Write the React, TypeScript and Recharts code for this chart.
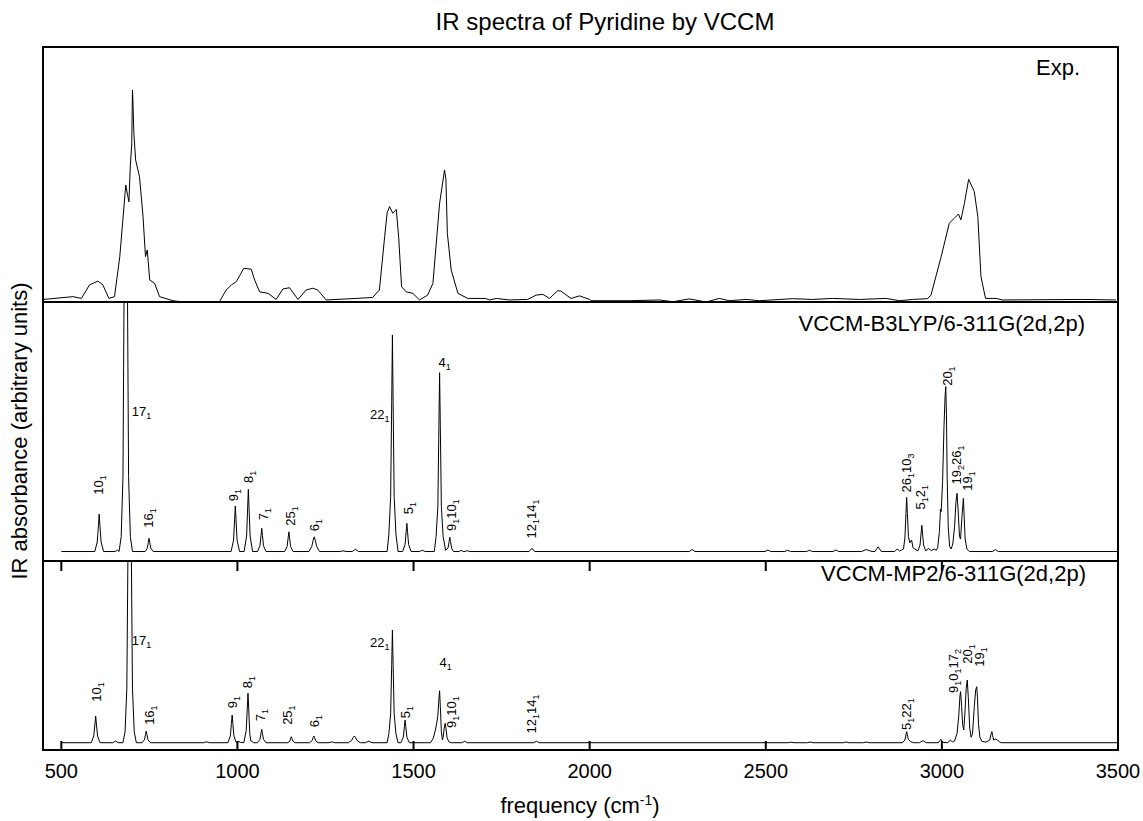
import React from 'react'
import { LineChart, Line, XAxis, YAxis, ReferenceDot } from 'recharts'

const FONT = '"Liberation Sans", Arial, Helvetica, sans-serif'

const FREQ_DOMAIN = [448, 3500]
const FREQ_TICKS = [500, 1000, 1500, 2000, 2500, 3000, 3500]

// [frequency (cm-1), absorbance (% of panel)]
const expSpectrum = [
  [450, 1.0], [533, 2.1], [557, 1.4], [580, 6.7], [604, 8.2], [618, 6.7], [635, 1.4], [651, 2.1],
  [666, 17.8], [683, 45.9], [688, 42.0], [692, 39.3], [696, 53.7], [700, 62], [702, 83.1], [703, 80],
  [706, 66.1], [711, 55.7], [722, 49.1], [732, 33.5], [739, 17.8], [744, 20.4], [751, 8.6], [765, 7.3],
  [779, 2.1], [817, 0.5], [835, 0.2], [949, 0.1], [968, 4.7], [983, 6.7], [997, 8.0], [1018, 13.2],
  [1039, 12.9], [1049, 8.6], [1063, 4.0], [1087, 3.4], [1110, 1.0], [1129, 5.1], [1148, 5.6], [1172, 1.0],
  [1195, 4.7], [1214, 5.4], [1228, 4.7], [1252, 0.8], [1337, 1.4], [1384, 1.8], [1403, 4.7], [1418, 25.6],
  [1425, 35.0], [1432, 37.4], [1441, 34.8], [1451, 36.3], [1458, 25.0], [1466, 6.0], [1479, 4.0], [1498, 3.4],
  [1517, 0.8], [1540, 2.7], [1555, 7.3], [1574, 38.7], [1588, 51.8], [1592, 48.0], [1596, 26.9], [1607, 12.5],
  [1626, 3.4], [1654, 1.4], [1704, 1.4], [1716, 0.8], [1735, 1.4], [1772, 0.8], [1824, 1.0], [1848, 2.7],
  [1867, 3.0], [1886, 1.4], [1909, 4.4], [1918, 4.3], [1947, 1.4], [1971, 2.4], [2000, 1.0], [2004, 0.5],
  [2113, 0.5], [2198, 0.8], [2236, 0.1], [2283, 1.2], [2331, 0.0], [2368, 1.4], [2396, 0.5], [2444, 1.0],
  [2482, 0.5], [2576, 1.3], [2633, 1.0], [2690, 1.4], [2766, 1.0], [2842, 1.4], [2879, 0.5], [2917, 1.0],
  [2959, 1.3], [2969, 2.7], [2998, 17.8], [3021, 30.9], [3035, 32.8], [3047, 34.5], [3054, 32.2], [3064, 38.7],
  [3076, 48.1], [3092, 43.3], [3102, 33.5], [3111, 9.9], [3124, 1.4], [3154, 1.4], [3172, 0.8], [3400, 1.0],
  [3494, 0.8],
]

const b3lypSpectrum = [
  [500, 0],
  [595, 0], [602, 3.8], [605.5, 10.5], [607.5, 15], [609.5, 10.5], [613, 3.8], [620, 0],
  [653, 0], [659, 0.6], [664, 0],
  [670, 6], [675, 30], [678, 100], [680, 200], [683, 400], [686, 200], [688, 100], [691, 30], [696, 6], [702, 0],
  [738, 0], [744, 1.3], [747, 3.7], [749, 5.3], [751, 3.7], [754, 1.3], [761, 0],
  [982, 0], [989, 4.6], [992, 12.7], [994, 18.2], [996, 12.7], [999, 4.6], [1006, 0],
  [1019, 0], [1026, 6.2], [1029, 17.4], [1031, 24.9], [1033, 17.4], [1036, 6.2], [1043, 0],
  [1057, 0], [1064, 2.3], [1067, 6.5], [1069, 9.3], [1071, 6.5], [1074, 2.3], [1081, 0],
  [1134, 0], [1141, 2.0], [1144, 5.5], [1146, 7.9], [1148, 5.5], [1151, 2.0], [1158, 0],
  [1203, 0], [1211, 2.0], [1215, 4.5], [1218, 5.9], [1221, 4.5], [1225, 2.0], [1233, 0],
  [1292, 0], [1300, 0.3], [1308, 0],
  [1326, 0], [1335, 0.9], [1344, 0],
  [1425, 0], [1430, 7], [1435, 22], [1438, 60], [1440, 86.8], [1442, 60], [1445, 22], [1450, 7], [1456, 0],
  [1469, 0], [1476, 2.8], [1479, 7.9], [1481, 11.3], [1483, 7.9], [1486, 2.8], [1493, 0],
  [1517, 0], [1525, 0.5], [1533, 0],
  [1559, 0], [1564, 6], [1569, 18], [1572, 50], [1574, 71.7], [1576, 50], [1579, 18], [1584, 6], [1591, 0.5],
  [1598, 1.4], [1601, 4.0], [1603, 5.7], [1605, 4.0], [1608, 1.4], [1613, 0],
  [1630, 0], [1635, 0.5], [1641, 0], [1647, 0], [1652, 0.4], [1658, 0],
  [1828, 0], [1836, 1.3], [1844, 0],
  [2283, 0], [2291, 0.8], [2299, 0],
  [2498, 0], [2506, 0.6], [2514, 0],
  [2554, 0], [2562, 0.5], [2570, 0],
  [2616, 0], [2624, 0.5], [2632, 0],
  [2691, 0], [2699, 0.6], [2707, 0],
  [2772, 0], [2785, 0.8], [2795, 0.3], [2802, 0],
  [2810, 0], [2819, 1.9], [2828, 0],
  [2866, 0], [2873, 1.0], [2880, 0.2], [2886, 0.6],
  [2891, 1.0], [2895, 5.4], [2898, 15.2], [2900, 21.7], [2902, 15.2], [2905, 6.0], [2909, 3.5], [2914, 4.6], [2918, 1.5], [2923, 1.0],
  [2932, 0.3], [2938, 2.6], [2941, 7.4], [2943, 10.5], [2945, 7.4], [2948, 2.6], [2954, 0.3], [2962, 1.2], [2970, 0.4], [2978, 1.0], [2984, 0.5],
  [2988, 1.5], [2993, 8], [2996, 16.9], [2998, 16], [3002, 28], [3006, 50], [3009, 62], [3011, 66.1], [3013, 55], [3015, 30], [3018, 10], [3022, 2], [3026, 1],
  [3031, 3], [3036, 10], [3040, 20], [3043, 23.3], [3046, 17], [3050, 6], [3053, 5], [3057, 14], [3061, 21.3], [3063, 15], [3066, 5], [3071, 1], [3078, 0],
  [3144, 0], [3152, 0.8], [3160, 0],
  [3500, 0],
]

const mp2Spectrum = [
  [500, 0],
  [585, 0], [592, 3.7], [595.5, 10.3], [597.5, 14.7], [599.5, 10.3], [603, 3.7], [610, 0],
  [646, 0], [654, 0.9], [662, 0],
  [675, 0], [681, 6], [686, 30], [689, 100], [691, 200], [694, 400], [697, 200], [699, 100], [702, 30], [707, 6], [713, 0],
  [729, 0], [736, 1.6], [739, 4.5], [741, 6.4], [743, 4.5], [746, 1.6], [753, 0],
  [904, 0], [912, 0.5], [920, 0],
  [973, 0], [980, 3.8], [983, 10.6], [985, 15.2], [987, 10.6], [990, 3.8], [996, 0.3], [1002, 0.8], [1008, 0.2],
  [1018, 0], [1025, 6.8], [1028, 19], [1030, 27.2], [1032, 19], [1035, 5], [1038, 1], [1041, 0.8], [1046, 0],
  [1057, 0], [1064, 1.9], [1067, 5.2], [1069, 7.4], [1071, 5.2], [1074, 1.9], [1081, 0],
  [1143, 0], [1149, 1.0], [1151, 2.3], [1153, 3.3], [1155, 2.3], [1157, 1.0], [1163, 0],
  [1205, 0], [1212, 1.2], [1215, 2.8], [1217, 3.7], [1219, 2.8], [1222, 1.2], [1229, 0],
  [1260, 0], [1268, 0.5], [1276, 0],
  [1315, 0], [1324, 1.2], [1329, 3.0], [1332, 3.7], [1335, 3.0], [1340, 1.2], [1349, 0],
  [1364, 0], [1373, 0.9], [1382, 0],
  [1425, 0], [1430, 5], [1435, 16], [1438, 43], [1440, 62], [1442, 43], [1445, 16], [1450, 5], [1456, 0],
  [1464, 0], [1471, 3.1], [1474, 8.8], [1476, 12.5], [1478, 8.8], [1481, 3.1], [1488, 0],
  [1548, 0], [1556, 2.5], [1562, 7], [1566, 11], [1569, 15], [1572, 24], [1574, 28.6], [1576, 20], [1579, 6], [1582, 1.5],
  [1584, 3], [1587, 8], [1590, 10.7], [1592, 8], [1595, 3], [1600, 0.5], [1606, 0],
  [1637, 0], [1645, 0.8], [1653, 0],
  [1841, 0], [1849, 0.8], [1857, 0],
  [2564, 0], [2572, 0.3], [2580, 0],
  [2618, 0], [2626, 0.4], [2634, 0],
  [2720, 0], [2728, 0.4], [2736, 0],
  [2777, 0], [2785, 0.4], [2793, 0],
  [2888, 0], [2895, 1.5], [2898, 4.3], [2900, 6.1], [2902, 4.3], [2905, 1.8], [2912, 0.5], [2920, 0],
  [2936, 0], [2946, 1.1], [2956, 0],
  [2990, 0], [2997, 1.9], [3003, 0.2],
  [3017, 0], [3024, 1.5], [3030, 0.5],
  [3036, 1], [3043, 5], [3048, 15], [3051, 25], [3053, 28.1], [3056, 20], [3059, 10], [3062, 7], [3065, 15], [3069, 30],
  [3072, 34.5], [3075, 25], [3079, 8], [3083, 3], [3087, 5], [3092, 20], [3096, 29], [3099, 30.8], [3101, 25], [3104, 10],
  [3108, 3], [3113, 0.8], [3125, 0.3], [3136, 1.5], [3140, 5], [3142, 6.1], [3144, 4], [3147, 1.5], [3152, 2], [3158, 1.5],
  [3164, 0.3], [3170, 0],
  [3500, 0],
]

// peak assignments: text (base_sub groups), frequency, height, r = rotated / s = left aligned / e = right aligned
const b3lypLabels = [
  ['10_1', 606, 26.7, 'r'],
  ['17_1', 700, 56.0, 's'],
  ['16_1', 748, 13.4, 'r'],
  ['9_1', 989, 22.6, 'r'],
  ['8_1', 1032, 29.9, 'r'],
  ['7_1', 1075, 15.0, 'r'],
  ['25_1', 1152, 14.2, 'r'],
  ['6_1', 1219, 10.6, 'r'],
  ['22_1', 1432, 55.1, 'e'],
  ['5_1', 1486, 17.4, 'r'],
  ['4_1', 1571, 75.6, 's'],
  ['9_1 10_1', 1607, 14.6, 'r'],
  ['12_1 14_1', 1835, 13.0, 'r'],
  ['26_1 10_3', 2900, 31.5, 'r'],
  ['5_1 2_1', 2939, 21.8, 'r'],
  ['20_1', 3015, 70.3, 'r'],
  ['19_2 26_1', 3041, 34.7, 'r'],
  ['19_1', 3072, 28.3, 'r'],
]

const mp2Labels = [
  ['10_1', 600, 27.9, 'r'],
  ['17_1', 700, 56.5, 's'],
  ['16_1', 749, 15.2, 'r'],
  ['9_1', 986, 22.4, 'r'],
  ['8_1', 1030, 33.4, 'r'],
  ['7_1', 1066, 15.2, 'r'],
  ['25_1', 1143, 15.2, 'r'],
  ['6_1', 1219, 11.9, 'r'],
  ['22_1', 1432, 55.4, 'e'],
  ['5_1', 1477, 16.9, 'r'],
  ['4_1', 1574, 44.4, 's'],
  ['9_1 10_1', 1607, 16.9, 'r'],
  ['12_1 14_1', 1835, 15.8, 'r'],
  ['5_1 22_1', 2900, 15.8, 'r'],
  ['9_1 0_1 17_2', 3032, 39.5, 'r'],
  ['20_1', 3072, 48.8, 'r'],
  ['19_1', 3107, 47.2, 'r'],
]

const W = 1143
const H = 821
const PLOT_LEFT = 43
const PLOT_RIGHT = 1118

function PeakLabel({ cx, cy, text, mode }: any) {
  const spans: any[] = []
  text.split(' ').forEach((grp: string, i: number) => {
    const [base, sub] = grp.split('_')
    spans.push(<tspan key={'b' + i} dy={i === 0 ? 0 : -3}>{base}</tspan>)
    spans.push(<tspan key={'s' + i} dy={3} fontSize={9}>{sub}</tspan>)
  })
  if (mode === 'r') {
    return (
      <text x={cx} y={cy + 4.5} textAnchor="middle" fontSize={13} fontFamily={FONT} fill="#000"
        transform={`rotate(-90 ${cx} ${cy})`}>
        {spans}
      </text>
    )
  }
  return (
    <text x={cx} y={cy + 4.5} textAnchor={mode === 's' ? 'start' : 'end'} fontSize={13} fontFamily={FONT} fill="#000">
      {spans}
    </text>
  )
}

function FreqTick({ x, y, payload, plotHeight }: any) {
  return (
    <g>
      <line x1={x} y1={y} x2={x} y2={y - 9} stroke="#000" strokeWidth={2} />
      <line x1={x} y1={y - plotHeight} x2={x} y2={y - plotHeight + 10} stroke="#000" strokeWidth={2} />
      <text x={x} y={y + 28} textAnchor="middle" fontSize={20} fontFamily={FONT} fill="#000">{payload.value}</text>
    </g>
  )
}

function SpectrumPanel({ top, plotHeight, axisHeight = 0, spectrum, yDomain, labels = [] }: any) {
  const data = spectrum.map(([f, a]: number[]) => ({ f, a }))
  const height = plotHeight + axisHeight
  return (
    <div style={{ position: 'absolute', left: 0, top, width: W, height }}>
      <LineChart width={W} height={height} data={data}
        margin={{ top: 0, right: W - PLOT_RIGHT, bottom: 0, left: PLOT_LEFT }}>
        <XAxis type="number" dataKey="f" domain={FREQ_DOMAIN} allowDataOverflow ticks={FREQ_TICKS} interval={0}
          hide={axisHeight === 0} height={axisHeight} axisLine={false} tickLine={false} tickSize={0} tickMargin={0}
          tick={(p: any) => <FreqTick {...p} plotHeight={plotHeight} />} />
        <YAxis type="number" domain={yDomain} allowDataOverflow hide />
        <Line type="linear" dataKey="a" stroke="#000" strokeWidth={1} dot={false} activeDot={false}
          isAnimationActive={false} />
        {labels.map(([text, f, v, mode]: any, i: number) => (
          <ReferenceDot key={i} x={f} y={v} r={1} ifOverflow="visible"
            shape={(p: any) => <PeakLabel cx={p.cx} cy={p.cy} text={text} mode={mode} />} />
        ))}
      </LineChart>
    </div>
  )
}

export default function App() {
  return (
    <div style={{ position: 'absolute', left: 0, top: 0, width: W, height: H, background: '#fff', fontFamily: FONT }}>
      <SpectrumPanel top={47} plotHeight={255} spectrum={expSpectrum} yDomain={[0, 100]} />
      <SpectrumPanel top={302} plotHeight={259} spectrum={b3lypSpectrum} yDomain={[-3.8, 100]} labels={b3lypLabels} />
      <SpectrumPanel top={561} plotHeight={189} axisHeight={71} spectrum={mp2Spectrum} yDomain={[-4, 100]} labels={mp2Labels} />

      <svg width={W} height={H} style={{ position: 'absolute', left: 0, top: 0, pointerEvents: 'none' }}>
        <rect x={PLOT_LEFT} y={47} width={PLOT_RIGHT - PLOT_LEFT} height={703} fill="none" stroke="#000" strokeWidth={2} />
        <line x1={PLOT_LEFT} x2={PLOT_RIGHT} y1={302} y2={302} stroke="#000" strokeWidth={2} />
        <line x1={PLOT_LEFT} x2={PLOT_RIGHT} y1={561} y2={561} stroke="#000" strokeWidth={2} />

        <text x={605} y={30} textAnchor="middle" fontSize={24} fontFamily={FONT}>IR spectra of Pyridine by VCCM</text>
        <text transform="translate(27,431) rotate(-90)" textAnchor="middle" fontSize={22} fontFamily={FONT}>
          IR absorbance (arbitrary units)
        </text>
        <text x={580} y={813} textAnchor="middle" fontSize={22} fontFamily={FONT}>
          frequency (cm<tspan dy={-8} fontSize={14}>-1</tspan><tspan dy={8}>)</tspan>
        </text>

        <text x={1080} y={75} textAnchor="end" fontSize={22} fontFamily={FONT}>Exp.</text>
        <text x={1085} y={331} textAnchor="end" fontSize={22} fontFamily={FONT}>VCCM-B3LYP/6-311G(2d,2p)</text>
        <text x={1086} y={581} textAnchor="end" fontSize={22} fontFamily={FONT}>VCCM-MP2/6-311G(2d,2p)</text>
      </svg>
    </div>
  )
}
